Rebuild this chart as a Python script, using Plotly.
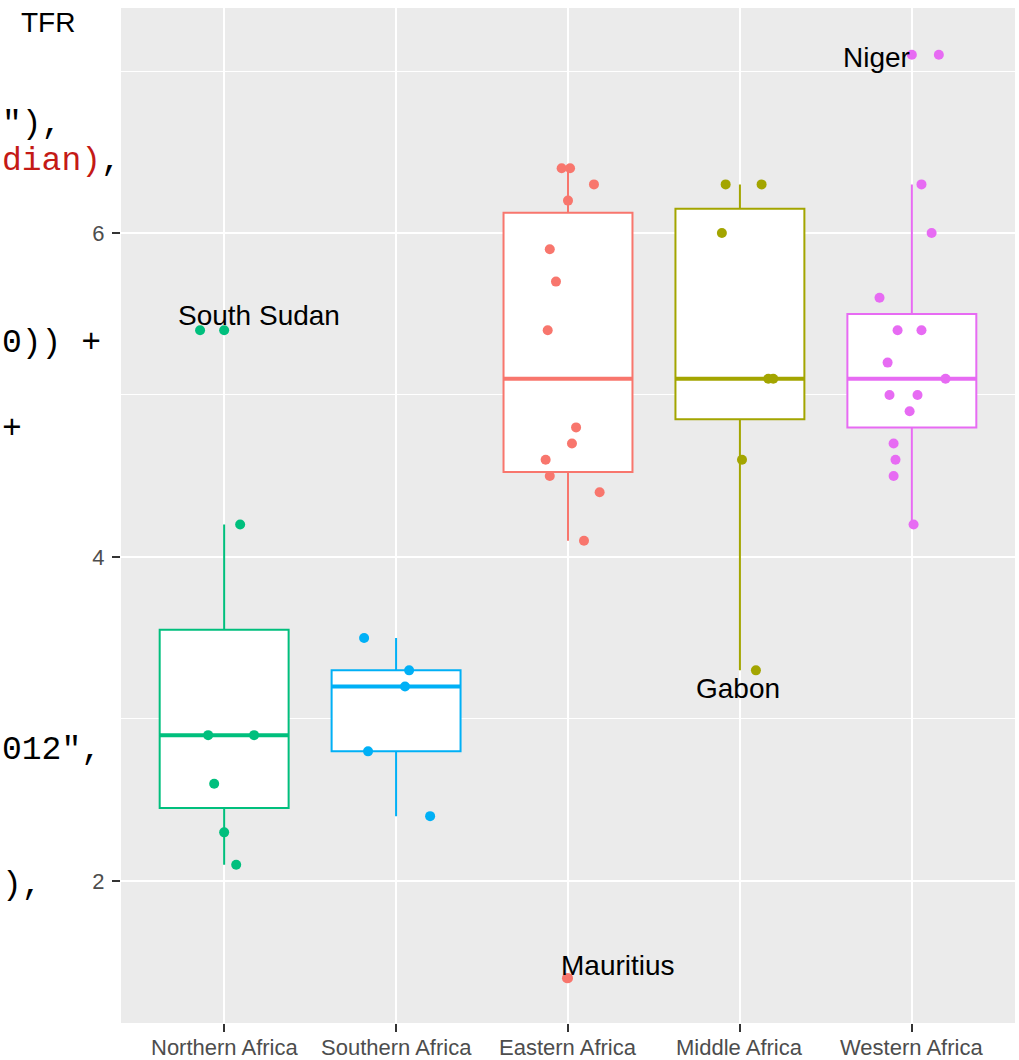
import numpy as np
import plotly.graph_objects as go

# ---------------- data ----------------
regions = ["Northern Africa", "Southern Africa", "Eastern Africa", "Middle Africa", "Western Africa"]

tfr_northern = [5.4, 4.2, 2.9, 2.9, 2.6, 2.3, 2.1]
tfr_southern = [3.5, 3.3, 3.2, 2.8, 2.4]
tfr_eastern = [6.4, 6.4, 6.3, 6.2, 5.9, 5.7, 5.4, 4.8, 4.7, 4.6, 4.5, 4.4, 4.1, 1.4]
tfr_middle = [6.3, 6.3, 6.0, 5.1, 5.1, 4.6, 3.3]
tfr_western = [7.1, 6.3, 6.0, 5.6, 5.4, 5.4, 5.2, 5.1, 5.0, 5.0, 4.9, 4.7, 4.6, 4.5, 4.2]

# horizontal jitter (category units) as seen in the picture
jit_northern = [-0.14, 0.093, -0.093, 0.174, -0.058, 0.0, 0.07]
jit_southern = [-0.186, 0.076, 0.052, -0.163, 0.198]
jit_eastern = [-0.037, 0.012, 0.151, 0.0, -0.106, -0.07, -0.118, 0.047, 0.023, -0.13, -0.106, 0.184, 0.093, -0.006]
jit_middle = [-0.083, 0.126, -0.105, 0.165, 0.194, 0.012, 0.093]
jit_western = [0.157, 0.056, 0.115, -0.188, -0.083, 0.056, -0.141, 0.196, -0.13, 0.033, -0.013, -0.106, -0.095, -0.106, 0.01]

# labelled countries
label_names = ["South Sudan", "Mauritius", "Gabon", "Niger"]
label_regions = ["Northern Africa", "Eastern Africa", "Middle Africa", "Western Africa"]
label_values = [5.4, 1.4, 3.3, 7.1]
label_dx = [0.203, 0.29, -0.012, -0.203]
label_dy = [0.088, 0.081, -0.109, -0.014]

values = [tfr_northern, tfr_southern, tfr_eastern, tfr_middle, tfr_western]
jitters = [jit_northern, jit_southern, jit_eastern, jit_middle, jit_western]
colors = ["#00BF7D", "#00B0F6", "#F8766D", "#A3A500", "#E76BF3"]

# ---------------- figure ----------------
W, H = 1019, 1060
ML, MR, MT, MB = 121, 4, 8, 37
PW, PH = W - ML - MR, H - MT - MB
BOXW = 0.75

fig = go.Figure()

for i, (reg, vals, jit, col) in enumerate(zip(regions, values, jitters, colors)):
    pos = i + 1
    v = np.array(vals, dtype=float)
    q1, med, q3 = np.percentile(v, [25, 50, 75])
    iqr = q3 - q1
    lo_lim, hi_lim = q1 - 1.5 * iqr, q3 + 1.5 * iqr
    inside = v[(v >= lo_lim) & (v <= hi_lim)]
    lf, uf = inside.min(), inside.max()
    outl = v[(v < lo_lim) | (v > hi_lim)]

    fig.add_trace(go.Box(
        x=[pos], q1=[q1], median=[med], q3=[q3], lowerfence=[lf], upperfence=[uf],
        width=BOXW, whiskerwidth=0, boxpoints=False,
        fillcolor="white", line=dict(color=col, width=2),
        showlegend=False, hoverinfo="skip",
    ))
    # thicker median line (ggplot fatten)
    fig.add_trace(go.Scatter(
        x=[pos - BOXW / 2, pos + BOXW / 2], y=[med, med], mode="lines",
        line=dict(color=col, width=4), showlegend=False, hoverinfo="skip",
    ))
    # outliers drawn by the boxplot at the centre
    if len(outl):
        fig.add_trace(go.Scatter(
            x=[pos] * len(outl), y=outl, mode="markers",
            marker=dict(color=col, size=10), showlegend=False, hoverinfo="skip",
        ))
    # jittered points
    fig.add_trace(go.Scatter(
        x=[pos + d for d in jit], y=vals, mode="markers",
        marker=dict(color=col, size=10), showlegend=False, hoverinfo="skip",
    ))

annotations = []
for name, reg, val, dx, dy in zip(label_names, label_regions, label_values, label_dx, label_dy):
    annotations.append(dict(
        x=regions.index(reg) + 1 + dx, y=val + dy, xref="x", yref="y",
        text=name, showarrow=False, xanchor="center", yanchor="middle",
        font=dict(family="Liberation Sans, Arial, sans-serif", size=28, color="black"),
    ))


def px_x(px):
    return (px - ML) / PW


def px_y(py):
    return (H - MB - py) / PH


# category labels under the x axis (drawn as text so they sit just above the page edge)
for i, reg in enumerate(regions):
    annotations.append(dict(
        x=i + 1, y=px_y(1047), xref="x", yref="paper", text=reg, showarrow=False,
        xanchor="center", yanchor="middle", borderpad=0,
        font=dict(family="Liberation Sans, Arial, sans-serif", size=22, color="#4D4D4D"),
    ))

# axis title placed at the top-left
annotations.append(dict(
    x=px_x(48), y=px_y(22), xref="paper", yref="paper", text="TFR", showarrow=False,
    xanchor="center", yanchor="middle",
    font=dict(family="Liberation Sans, Arial, sans-serif", size=28, color="black"),
))

# fragments of code visible at the left of the screenshot
code_lines = [
    ('"),', 124),
    ('<span style="color:#C41A16">dian)</span>,', 162),
    ('0)) +', 343),
    ('+', 430),
    ('012",', 750),
    ('),', 885),
]
for txt, py in code_lines:
    annotations.append(dict(
        x=px_x(0), y=px_y(py), xref="paper", yref="paper", text=txt, showarrow=False,
        xanchor="left", yanchor="middle",
        font=dict(family="Liberation Mono, Courier New, monospace", size=33, color="black"),
    ))

axis_common = dict(
    showgrid=True, gridcolor="white", gridwidth=2, zeroline=False, showline=False,
    ticks="outside", ticklen=8, tickwidth=2, tickcolor="#333333", automargin=False,
)

fig.update_layout(
    width=W, height=H,
    margin=dict(l=ML, r=MR, t=MT, b=MB, pad=0, autoexpand=False),
    paper_bgcolor="white", plot_bgcolor="#EBEBEB",
    xaxis=dict(range=[0.4, 5.6], tickvals=[1, 2, 3, 4, 5], showticklabels=False,
               **axis_common),
    yaxis=dict(range=[1.123, 7.389], tick0=0, dtick=2,
               minor=dict(dtick=1, showgrid=True, gridcolor="white", gridwidth=1),
               ticklabelstandoff=3,
               tickfont=dict(family="Liberation Sans, Arial, sans-serif", size=22, color="#4D4D4D"),
               **axis_common),
    annotations=annotations,
    showlegend=False,
)

fig.write_html(
    "out.html",
    config={"displayModeBar": False},
    post_script="document.body.style.margin='0';document.body.style.overflow='hidden';",
)
